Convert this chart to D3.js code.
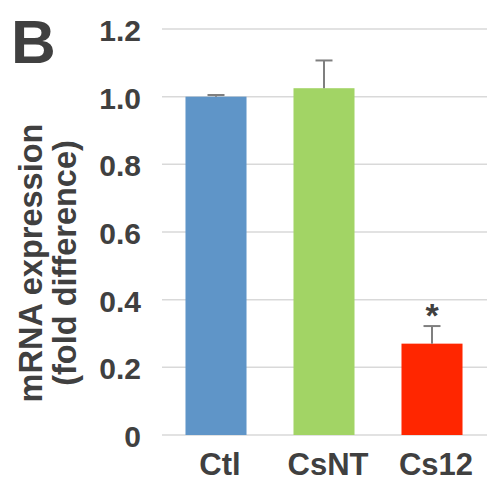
<!DOCTYPE html>
<html>
<head>
<meta charset="utf-8">
<script src="https://cdn.jsdelivr.net/npm/d3@7"></script>
<style>
  body { margin: 0; background: #fff; }
  svg { display: block; font-family: "Liberation Sans", Arial, sans-serif; }
</style>
</head>
<body>
<svg id="chart" width="488" height="482"></svg>
<script>
// data
const groups = ['Ctl', 'CsNT', 'Cs12']
const means = [1.0, 1.025, 0.27]
const errors = [0.005, 0.082, 0.052]
const colors = ['#5f95c8', '#a2d465', '#ff2600']
const yTicks = [0, 0.2, 0.4, 0.6, 0.8, 1.0, 1.2]
const significant = [false, false, true]

const svg = d3.select('#chart')
const textColor = '#404040'

const x = d3.scaleBand()
    .domain(groups)
    .range([162, 486])
    .paddingInner(0.435)
    .paddingOuter(0.2175)

const y = d3.scaleLinear()
    .domain([0, 1.2])
    .range([435, 29])

// gridlines
svg.append('g')
    .selectAll('line')
    .data(yTicks)
    .join('line')
    .attr('x1', 162)
    .attr('x2', 487)
    .attr('y1', d => y(d))
    .attr('y2', d => y(d))
    .attr('stroke', '#d9d9d9')
    .attr('stroke-width', 1.5)

// tick labels
svg.append('g')
    .selectAll('text')
    .data(yTicks)
    .join('text')
    .attr('x', 141)
    .attr('y', d => y(d))
    .attr('dy', '0.4em')
    .attr('text-anchor', 'end')
    .attr('font-size', 30)
    .attr('font-weight', 'bold')
    .attr('fill', textColor)
    .text(d => d === 0 ? '0' : d3.format('.1f')(d))

const rows = groups.map((g, i) => ({ group: g, mean: means[i], err: errors[i], color: colors[i], sig: significant[i] }))

// bars
svg.append('g')
    .selectAll('rect')
    .data(rows)
    .join('rect')
    .attr('x', d => x(d.group))
    .attr('y', d => y(d.mean))
    .attr('width', x.bandwidth())
    .attr('height', d => y(0) - y(d.mean))
    .attr('fill', d => d.color)

// error bars (upper only)
const err = svg.append('g')
    .attr('stroke', '#7f7f7f')
    .attr('stroke-width', 2)

err.selectAll('line.stem')
    .data(rows)
    .join('line')
    .classed('stem', true)
    .attr('x1', d => x(d.group) + x.bandwidth() / 2)
    .attr('x2', d => x(d.group) + x.bandwidth() / 2)
    .attr('y1', d => y(d.mean))
    .attr('y2', d => y(d.mean + d.err))

err.selectAll('line.cap')
    .data(rows)
    .join('line')
    .classed('cap', true)
    .attr('x1', d => x(d.group) + x.bandwidth() / 2 - 8.5)
    .attr('x2', d => x(d.group) + x.bandwidth() / 2 + 8.5)
    .attr('y1', d => y(d.mean + d.err))
    .attr('y2', d => y(d.mean + d.err))

// significance star
svg.append('g')
    .selectAll('text')
    .data(rows.filter(d => d.sig))
    .join('text')
    .attr('x', d => x(d.group) + x.bandwidth() / 2)
    .attr('y', d => y(d.mean + d.err) + 1)
    .attr('text-anchor', 'middle')
    .attr('font-size', 34)
    .attr('font-weight', 'bold')
    .attr('fill', textColor)
    .text('*')

// category labels
svg.append('g')
    .selectAll('text')
    .data(groups)
    .join('text')
    .attr('x', d => x(d) + x.bandwidth() / 2 + 4)
    .attr('y', 475)
    .attr('text-anchor', 'middle')
    .attr('font-size', 31)
    .attr('font-weight', 'bold')
    .attr('fill', textColor)
    .text(d => d)

// axis title, two lines
const title = svg.append('text')
    .attr('transform', 'translate(0,263) rotate(-90)')
    .attr('text-anchor', 'middle')
    .attr('font-size', 32.5)
    .attr('font-weight', 'bold')
    .attr('fill', textColor)

title.append('tspan').attr('x', 0).attr('y', 42).text('mRNA expression')
title.append('tspan').attr('x', 0).attr('y', 76).text('(fold difference)')

// panel letter
svg.append('text')
    .attr('x', 11)
    .attr('y', 63)
    .attr('font-size', 62)
    .attr('font-weight', 'bold')
    .attr('fill', textColor)
    .text('B')
</script>
</body>
</html>
